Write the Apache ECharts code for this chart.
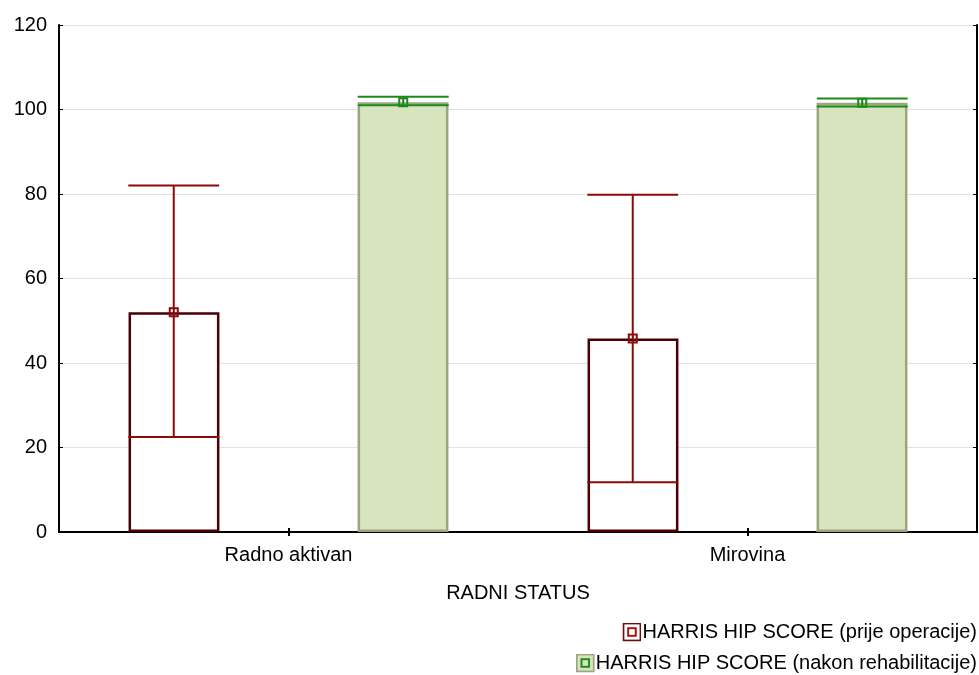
<!DOCTYPE html>
<html>
<head>
<meta charset="utf-8">
<script src="https://cdn.jsdelivr.net/npm/echarts@6/dist/echarts.min.js"></script>
<style>html,body{margin:0;padding:0;background:#fff}#c{width:979px;height:675px}</style>
</head>
<body>
<div id="c"></div>
<script>
const categories = ['Radno aktivan', 'Mirovina'];
const seriesNames = ['HARRIS HIP SCORE (prije operacije)', 'HARRIS HIP SCORE (nakon rehabilitacije)'];
const meanPre = [52.0, 45.8];
const lowPre = [22.5, 11.8];
const highPre = [82.0, 79.8];
const meanPost = [101.7, 101.6];
const lowPost = [101.0, 100.7];
const highPost = [103.0, 102.6];
const yTicks = [0, 20, 40, 60, 80, 100, 120];

const chart = echarts.init(document.getElementById('c'), null, {renderer: 'canvas'});
const FONT = 'Liberation Sans, Arial, sans-serif';
const FS = 20;

function errData(lo, hi, mean) {
  return categories.map((c, i) => [i, lo[i], hi[i], mean[i]]);
}

function makeErr(offsetFrac, halfFrac, lineColor, markFill) {
  return function (params, api) {
    const xi = api.value(0);
    const catW = api.size([1, 0])[0];
    const pLo = api.coord([xi, api.value(1)]);
    const pHi = api.coord([xi, api.value(2)]);
    const pM = api.coord([xi, api.value(3)]);
    const cx = pM[0] + offsetFrac * catW;
    const hw = halfFrac * catW;
    const st = {stroke: lineColor, lineWidth: 2};
    return {
      type: 'group',
      children: [
        {type: 'line', shape: {x1: cx, y1: pLo[1], x2: cx, y2: pHi[1]}, style: st},
        {type: 'line', shape: {x1: cx - hw, y1: pHi[1], x2: cx + hw, y2: pHi[1]}, style: st},
        {type: 'line', shape: {x1: cx - hw, y1: pLo[1], x2: cx + hw, y2: pLo[1]}, style: st},
        {type: 'rect', shape: {x: cx - 4, y: pM[1] - 4, width: 8, height: 8},
          style: {stroke: lineColor, lineWidth: 2, fill: markFill}},
        {type: 'line', shape: {x1: cx, y1: pM[1] - 4, x2: cx, y2: pM[1] + 4}, style: {stroke: lineColor, lineWidth: 1}}
      ]
    };
  };
}

function svgIcon(outerFill, outerStroke, innerFill, innerStroke) {
  const svg = '<svg xmlns="http://www.w3.org/2000/svg" width="20" height="20" viewBox="0 0 20 20">' +
    '<rect x="1" y="1" width="18" height="18" fill="' + outerFill + '" stroke="' + outerStroke + '" stroke-width="2"/>' +
    '<rect x="6" y="6" width="8" height="8" fill="' + innerFill + '" stroke="' + innerStroke + '" stroke-width="2"/>' +
    '</svg>';
  return 'image://data:image/svg+xml;charset=utf-8,' + encodeURIComponent(svg);
}

const legendText = {fontFamily: FONT, fontSize: FS, color: '#000', padding: [0, 0, 0, -4]};

const option = {
  animation: false,
  backgroundColor: '#fff',
  textStyle: {fontFamily: FONT},
  grid: {left: 59, right: 2, top: 25, bottom: 143, containLabel: false},
  legend: [
    {
      data: [{name: seriesNames[0], icon: svgIcon('#ffffff', '#7a0a0a', '#ffffff', '#a01010')}],
      orient: 'vertical', right: 2, top: 622, padding: 0, itemWidth: 19, itemHeight: 19,
      textStyle: legendText, selectedMode: false
    },
    {
      data: [{name: seriesNames[1], icon: svgIcon('#d7e4bd', '#9ba67f', '#d7e4bd', '#1b8a1b')}],
      orient: 'vertical', right: 2, top: 653, padding: 0, itemWidth: 19, itemHeight: 19,
      textStyle: legendText, selectedMode: false
    }
  ],
  xAxis: [
    {
      type: 'category', data: categories, position: 'bottom',
      name: 'RADNI STATUS', nameLocation: 'middle', nameGap: 51,
      nameTextStyle: {fontFamily: FONT, fontSize: FS, color: '#000'},
      axisLine: {show: true, lineStyle: {color: '#000', width: 2}},
      axisTick: {show: true, inside: true, alignWithLabel: true, length: 4, lineStyle: {color: '#000', width: 2}},
      axisLabel: {fontFamily: FONT, fontSize: FS, color: '#000', margin: 13},
      splitLine: {show: false}
    },
    {
      type: 'category', data: categories, position: 'top',
      axisLine: {show: true, lineStyle: {color: '#000', width: 2}},
      axisTick: {show: true, inside: true, alignWithLabel: true, length: 4, lineStyle: {color: '#000', width: 2}},
      axisLabel: {show: false},
      splitLine: {show: false}
    }
  ],
  yAxis: [
    {
      type: 'value', min: 0, max: 120, interval: 20, position: 'left',
      axisLine: {show: true, lineStyle: {color: '#000', width: 2}},
      axisTick: {show: true, inside: true, length: 4, lineStyle: {color: '#000', width: 1}},
      axisLabel: {fontFamily: FONT, fontSize: FS, color: '#000', margin: 12,
        formatter: v => (yTicks.indexOf(v) >= 0 ? String(v) : '')},
      splitLine: {show: true, lineStyle: {color: '#e2e2e2', width: 1}}
    },
    {
      type: 'value', min: 0, max: 120, interval: 20, position: 'right',
      axisLine: {show: true, lineStyle: {color: '#000', width: 2}},
      axisTick: {show: true, inside: true, length: 4, lineStyle: {color: '#000', width: 1}},
      axisLabel: {show: false},
      splitLine: {show: false}
    }
  ],
  series: [
    {
      name: seriesNames[0], type: 'bar', data: meanPre,
      barWidth: '19.8%', barGap: '152%',
      itemStyle: {color: '#ffffff', borderColor: '#4a0000', borderWidth: 2.5},
      z: 2
    },
    {
      name: seriesNames[1], type: 'bar', data: meanPost,
      barWidth: '19.8%', barGap: '152%',
      itemStyle: {color: '#d7e4bd', borderColor: '#9ba67f', borderWidth: 2.5},
      z: 2
    },
    {
      name: 'err-pre', type: 'custom', data: errData(lowPre, highPre, meanPre),
      renderItem: makeErr(-0.25, 0.099, '#8c0a0a', 'rgba(255,255,255,0)'),
      encode: {x: 0, y: [1, 2, 3]}, z: 5
    },
    {
      name: 'err-post', type: 'custom', data: errData(lowPost, highPost, meanPost),
      renderItem: makeErr(0.25, 0.099, '#1b8a1b', 'rgba(255,255,255,0)'),
      encode: {x: 0, y: [1, 2, 3]}, z: 5
    }
  ]
};
chart.setOption(option);
</script>
</body>
</html>
